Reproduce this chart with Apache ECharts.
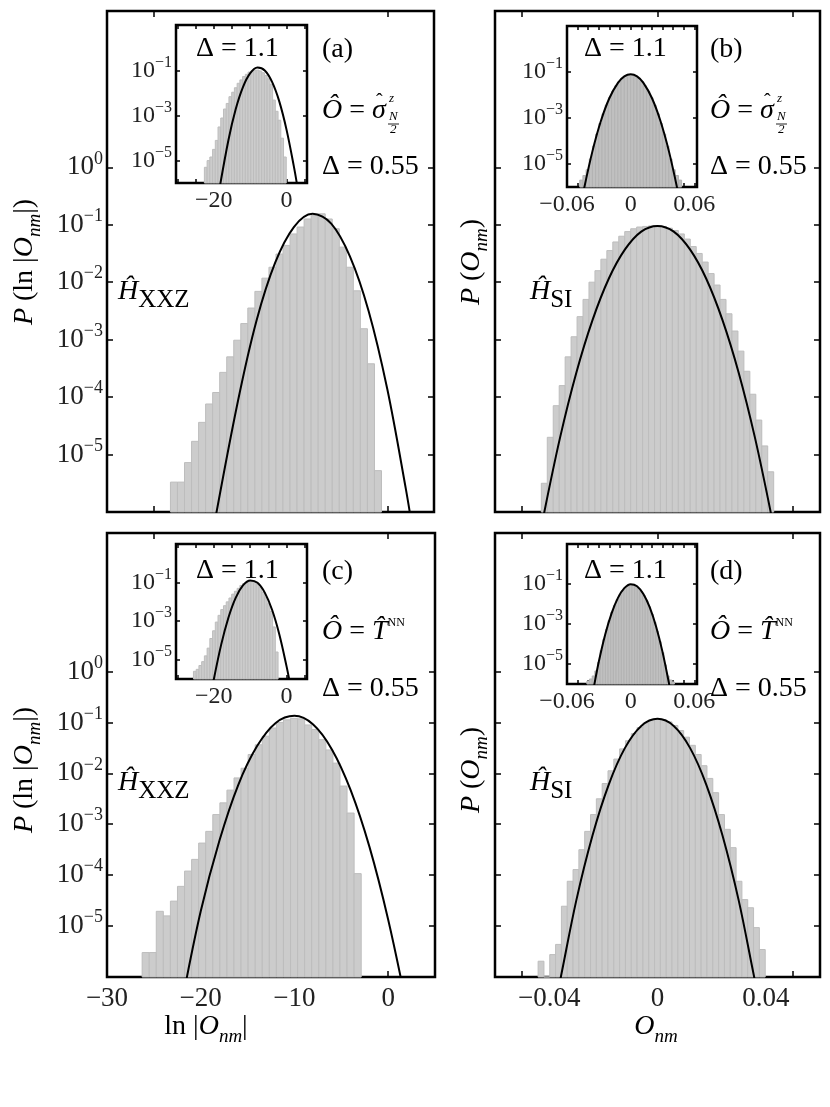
<!DOCTYPE html>
<html>
<head>
<meta charset="utf-8">
<title>ECharts</title>
<script src="https://cdn.jsdelivr.net/npm/echarts@6/dist/echarts.min.js"></script>
</head>
<body style="margin:0;background:#fff">
<div id="main" style="width:830px;height:1107px;"></div>
<script>
// all P values are stored as log10 P
// (a) main, XXZ, sigma_z
var aBinStart = -23.21, aBinW = 0.753;
var aLogP = [-5.48,-5.48,-5.14,-4.77,-4.44,-4.12,-3.92,-3.57,-3.30,-3.01,-2.72,-2.45,-2.16,-1.93,-1.74,-1.51,-1.36,-1.16,-1.04,-0.90,-0.84,-0.81,-0.90,-1.07,-1.39,-1.74,-2.15,-2.81,-3.42,-5.28];
var aCurveX = [-18.5,-16,-14,-12,-10,-8,-6,-4,-2,0,2,2.6];
var aCurveLogP = [-6.2,-4.08,-2.67,-1.66,-1.04,-0.81,-0.98,-1.55,-2.50,-3.86,-5.61,-6.2];
// (a) inset
var iaBinStart = -22.6, iaBinW = 0.75;
var iaLogP = [-5.3,-5.0,-4.84,-4.5,-4.1,-3.5,-3.1,-2.7,-2.45,-2.15,-1.95,-1.75,-1.55,-1.4,-1.25,-1.15,-1.05,-1.0,-0.97,-0.96,-1.0,-1.08,-1.2,-1.35,-1.6,-2.3,-2.8,-3.2,-4.0,-4.84];
var iaCurveX = [-18.5,-16,-14,-12,-10,-8,-6,-4,-2,0,2,3];
var iaCurveLogP = [-6.3,-4.09,-2.71,-1.72,-1.10,-0.85,-0.98,-1.49,-2.37,-3.64,-5.27,-6.2];
// (b) main, SI, sigma_z
var bBinStart = -0.0429, bBinW = 0.0022;
var bLogP = [-5.5,-4.7,-4.15,-3.8,-3.3,-2.95,-2.6,-2.3,-2.0,-1.8,-1.6,-1.45,-1.3,-1.2,-1.12,-1.07,-1.04,-1.03,-1.02,-1.02,-1.03,-1.06,-1.1,-1.16,-1.25,-1.38,-1.5,-1.65,-1.85,-2.05,-2.3,-2.55,-2.85,-3.2,-3.55,-3.95,-4.4,-4.85,-5.3];
var bCurveX = [-0.042,-0.036,-0.030,-0.024,-0.018,-0.012,-0.006,0,0.006,0.012,0.018,0.024,0.030,0.036,0.042];
var bCurveLogP = [-6.05,-4.71,-3.58,-2.66,-1.94,-1.43,-1.12,-1.02,-1.12,-1.43,-1.94,-2.66,-3.58,-4.71,-6.05];
// (b) inset
var ibBinStart = -0.048, ibBinW = 0.003;
var ibLogP = [-5.7,-5.5,-5.25,-4.78,-4.22,-3.7,-3.24,-2.82,-2.44,-2.12,-1.84,-1.6,-1.41,-1.28,-1.18,-1.14,-1.14,-1.18,-1.28,-1.41,-1.6,-1.84,-2.12,-2.44,-2.82,-3.24,-3.7,-4.22,-4.78,-5.25,-5.5,-5.7];
var ibCurveX = [-0.044,-0.036,-0.028,-0.020,-0.012,-0.006,0,0.006,0.012,0.020,0.028,0.036,0.044];
var ibCurveLogP = [-6.09,-4.44,-3.12,-2.13,-1.47,-1.19,-1.1,-1.19,-1.47,-2.13,-3.12,-4.44,-6.09];
// (c) main, XXZ, T_NN
var cBinStart = -26.25, cBinW = 0.754;
var cLogP = [-5.52,-5.52,-4.71,-4.80,-4.51,-4.22,-3.92,-3.69,-3.37,-3.14,-2.81,-2.58,-2.33,-2.09,-1.90,-1.63,-1.44,-1.27,-1.11,-1.00,-0.95,-0.92,-0.93,-1.05,-1.14,-1.34,-1.54,-1.80,-2.25,-2.78,-3.97];
var cCurveX = [-22,-20,-18,-16,-14,-12,-10,-8,-6,-4,-2,0,2];
var cCurveLogP = [-6.5,-4.71,-3.32,-2.23,-1.47,-1.01,-0.87,-1.04,-1.53,-2.33,-3.44,-4.87,-6.6];
// (c) inset
var icBinStart = -25.6, icBinW = 0.75;
var icLogP = [-5.6,-5.5,-5.3,-5.1,-4.8,-4.4,-3.9,-3.5,-3.05,-2.7,-2.4,-2.2,-2.0,-1.8,-1.6,-1.45,-1.3,-1.15,-1.05,-0.97,-0.95,-0.96,-1.0,-1.1,-1.25,-1.5,-1.75,-2.1,-2.5,-3.3,-4.6];
var icCurveX = [-20.2,-18,-16,-14,-12,-10,-8,-6,-4,-2,0,1];
var icCurveLogP = [-6.2,-4.23,-2.82,-1.79,-1.15,-0.89,-1.01,-1.52,-2.41,-3.69,-5.36,-6.3];
// (d) main, SI, T_NN
var dBinStart = -0.04408, dBinW = 0.00215;
var dLogP = [-5.69,-6,-5.56,-5.36,-4.61,-4.12,-3.89,-3.50,-3.14,-2.81,-2.5,-2.2,-1.95,-1.72,-1.52,-1.36,-1.22,-1.1,-1.01,-0.96,-0.94,-0.95,-0.99,-1.06,-1.16,-1.29,-1.45,-1.63,-1.85,-2.1,-2.38,-2.81,-3.10,-3.46,-4.12,-4.48,-4.64,-5.03,-5.46];
var dCurveX = [-0.037,-0.036,-0.030,-0.024,-0.018,-0.012,-0.006,0,0.006,0.012,0.018,0.024,0.030,0.036,0.037];
var dCurveLogP = [-6.3,-6.08,-4.50,-3.22,-2.22,-1.50,-1.07,-0.93,-1.07,-1.50,-2.22,-3.22,-4.50,-6.08,-6.3];
// (d) inset
var idBinStart = -0.04125, idBinW = 0.0025;
var idLogP = [-5.85,-5.75,-5.6,-5.35,-4.93,-4.33,-3.78,-3.29,-2.84,-2.44,-2.1,-1.8,-1.56,-1.36,-1.21,-1.12,-1.07,-1.08,-1.13,-1.24,-1.4,-1.6,-1.86,-2.16,-2.52,-2.92,-3.38,-3.89,-4.44,-5.05,-5.6,-5.8,-5.9];
var idCurveX = [-0.036,-0.035,-0.030,-0.024,-0.018,-0.012,-0.006,0,0.006,0.012,0.018,0.024,0.030,0.036,0.038];
var idCurveLogP = [-6.5,-6.23,-4.88,-3.53,-2.48,-1.71,-1.23,-1.03,-1.13,-1.52,-2.19,-3.15,-4.40,-5.94,-6.5];

var mainYTicks = [-5,-4,-3,-2,-1,0];
var insetYTicks = [-5,-3,-1];

var FONT = 'Liberation Serif';
var myChart = echarts.init(document.getElementById('main'));

function logLabel(v) {
    return '{b|10}{s|' + (v < 0 ? '\u2212' + (-v) : v) + '}';
}
function numLabel(v) {
    return v < 0 ? '\u2212' + (-v) : String(v);
}
function labelRich(size) {
    return {
        b: {fontFamily: FONT, fontSize: size, color: '#222', lineHeight: size + 8},
        s: {fontFamily: FONT, fontSize: Math.round(size * 0.68), color: '#222', verticalAlign: 'top', lineHeight: size + 8}
    };
}

var grids = [
    {left: 107, top: 11, width: 327, height: 501},
    {left: 495, top: 11, width: 325, height: 501},
    {left: 107, top: 533, width: 328, height: 444},
    {left: 495, top: 533, width: 325, height: 444},
    {left: 176, top: 25, width: 131, height: 158},
    {left: 567, top: 26, width: 130, height: 161},
    {left: 176, top: 544, width: 131, height: 135},
    {left: 567, top: 544, width: 130, height: 140}
];
grids.forEach(function (g) {
    g.show = true; g.borderColor = '#000'; g.borderWidth = 2.5; g.backgroundColor = '#fff';
});

var xAxes = [], yAxes = [];
var noLine = {show: false, onZero: false};
function tick(vals, len) {
    return {show: true, inside: true, length: len, customValues: vals, lineStyle: {color: '#000', width: 1.5}};
}
function addAxes(gi, cfg) {
    var fs = cfg.fs;
    xAxes.push({gridIndex: gi, type: 'value', position: 'bottom', min: cfg.xr[0], max: cfg.xr[1],
        axisLine: noLine, splitLine: {show: false}, axisTick: tick(cfg.xt, cfg.tl),
        axisLabel: {show: !!cfg.xl, customValues: cfg.xl || [], margin: cfg.xm || 8, fontFamily: FONT, fontSize: fs, color: '#222', formatter: numLabel}});
    xAxes.push({gridIndex: gi, type: 'value', position: 'top', min: cfg.xr[0], max: cfg.xr[1],
        axisLine: noLine, splitLine: {show: false}, axisTick: tick(cfg.xt, cfg.tl), axisLabel: {show: false}});
    yAxes.push({gridIndex: gi, type: 'value', position: 'left', min: -6, max: cfg.ymax,
        axisLine: noLine, splitLine: {show: false}, axisTick: tick(cfg.yt, cfg.tl),
        axisLabel: {show: !!cfg.yl, customValues: cfg.yl || [], margin: cfg.ym || 4, formatter: logLabel, rich: labelRich(fs)}});
    yAxes.push({gridIndex: gi, type: 'value', position: 'right', min: -6, max: cfg.ymax,
        axisLine: noLine, splitLine: {show: false}, axisTick: tick(cfg.yt, cfg.tl), axisLabel: {show: false}});
}
addAxes(0, {xr: [-30, 5], xt: [-25, 0], ymax: 2.72, yt: mainYTicks, yl: mainYTicks, fs: 27, tl: 6});
addAxes(1, {xr: [-0.06, 0.06], xt: [-0.05, 0, 0.05], ymax: 2.72, yt: mainYTicks, fs: 27, tl: 6});
addAxes(2, {xr: [-30, 5], xt: [-25, 0], xl: [-30, -20, -10, 0], ymax: 2.72, yt: mainYTicks, yl: mainYTicks, fs: 27, tl: 6});
addAxes(3, {xr: [-0.06, 0.06], xt: [-0.05, 0, 0.05], xl: [-0.04, 0, 0.04], ymax: 2.72, yt: mainYTicks, fs: 27, tl: 6});
var insXT = [-30, -25, -20, -15, -10, -5, 0, 5];
var insBT = [-0.05, -0.04, -0.03, -0.02, -0.01, 0, 0.01, 0.02, 0.03, 0.04, 0.05, 0.06];
addAxes(4, {xr: [-30.4, 5.6], xt: insXT, xl: [-20, 0], ymax: 1.05, yt: insetYTicks, yl: insetYTicks, fs: 24, tl: 4, xm: 6});
addAxes(5, {xr: [-0.06, 0.0625], xt: insBT, xl: [-0.06, 0, 0.06], ymax: 1.0, yt: insetYTicks, yl: insetYTicks, fs: 24, tl: 4, xm: 6});
addAxes(6, {xr: [-30.4, 5.6], xt: insXT, xl: [-20, 0], ymax: 1.0, yt: insetYTicks, yl: insetYTicks, fs: 24, tl: 4, xm: 6});
addAxes(7, {xr: [-0.06, 0.0625], xt: insBT, xl: [-0.06, 0, 0.06], ymax: 0.97, yt: insetYTicks, yl: insetYTicks, fs: 24, tl: 4, xm: 6});

function binData(start, w, vals) {
    return vals.map(function (v, i) { return [start + i * w, start + (i + 1) * w, v]; });
}
function barSeries(gi, data, fill, stroke) {
    return {
        type: 'custom', xAxisIndex: 2 * gi, yAxisIndex: 2 * gi, data: data, z: 2,
        renderItem: function (params, api) {
            var p0 = api.coord([api.value(0), api.value(2)]);
            var p1 = api.coord([api.value(1), -6]);
            return {type: 'rect', shape: {x: p0[0], y: p0[1], width: p1[0] - p0[0], height: p1[1] - p0[1]},
                style: {fill: fill, stroke: stroke, lineWidth: 1}};
        }
    };
}
function curveSeries(gi, xs, ys) {
    return {
        type: 'line', xAxisIndex: 2 * gi, yAxisIndex: 2 * gi, smooth: 0.35, showSymbol: false, clip: true, z: 3,
        data: xs.map(function (x, i) { return [x, ys[i]]; }),
        lineStyle: {color: '#000', width: 2}
    };
}
var LF = '#cccccc', LS = '#bdbdbd', DF = '#c0c0c0', DS = '#b3b3b3';
var series = [
    barSeries(0, binData(aBinStart, aBinW, aLogP), LF, LS), curveSeries(0, aCurveX, aCurveLogP),
    barSeries(1, binData(bBinStart, bBinW, bLogP), LF, LS), curveSeries(1, bCurveX, bCurveLogP),
    barSeries(2, binData(cBinStart, cBinW, cLogP), LF, LS), curveSeries(2, cCurveX, cCurveLogP),
    barSeries(3, binData(dBinStart, dBinW, dLogP), LF, LS), curveSeries(3, dCurveX, dCurveLogP),
    barSeries(4, binData(iaBinStart, iaBinW, iaLogP), LF, LS), curveSeries(4, iaCurveX, iaCurveLogP),
    barSeries(5, binData(ibBinStart, ibBinW, ibLogP), DF, DS), curveSeries(5, ibCurveX, ibCurveLogP),
    barSeries(6, binData(icBinStart, icBinW, icLogP), LF, LS), curveSeries(6, icCurveX, icCurveLogP),
    barSeries(7, binData(idBinStart, idBinW, idLogP), DF, DS), curveSeries(7, idCurveX, idCurveLogP)
];

var rich = {
    r: {fontFamily: FONT, fontSize: 28, color: '#222'},
    i: {fontFamily: FONT, fontSize: 28, fontStyle: 'italic', color: '#222'},
    sub: {fontFamily: FONT, fontSize: 25, color: '#222', verticalAlign: 'bottom', lineHeight: 42},
    subi: {fontFamily: FONT, fontSize: 19, fontStyle: 'italic', color: '#222', verticalAlign: 'bottom', lineHeight: 38},
    sc: {fontFamily: FONT, fontSize: 12, color: '#222', verticalAlign: 'top', lineHeight: 30},
    tiny: {fontFamily: FONT, fontSize: 13, fontStyle: 'italic', color: '#222'},
    hat: {fontFamily: FONT, fontSize: 20, color: '#222'}
};
function txt(x, y, s, align, rot) {
    return {type: 'text', x: x, y: y, rotation: rot || 0, z: 10,
        style: {text: s, rich: rich, align: align || 'left', verticalAlign: 'middle', font: '28px ' + FONT}};
}
var graphic = [];
[[0, 0, true], [388, 0, true], [0, 522, false], [388, 522, false]].forEach(function (p) {
    var dx = p[0], dy = p[1];
    graphic.push(txt(322 + dx, 50 + dy, '{r|(' + 'abcd'[(dx ? 1 : 0) + (dy ? 2 : 0)] + ')}'));
    graphic.push(txt(196 + dx, 49 + dy, '{r|\u0394 = 1.1}'));
    graphic.push(txt(322 + dx, 167 + dy, '{r|\u0394 = 0.55}'));
    if (p[2]) {
        graphic.push(txt(322 + dx, 111 + dy, '{i|\u00d4}{r| = }{i|\u03c3}'));
        graphic.push(txt(376 + dx, 103 + dy, '{hat|\u02c6}'));
        graphic.push(txt(389 + dx, 99 + dy, '{tiny|z}'));
        graphic.push(txt(389 + dx, 117 + dy, '{tiny|N}'));
        graphic.push({type: 'line', z: 10, shape: {x1: 388 + dx, y1: 124 + dy, x2: 399 + dx, y2: 124 + dy}, style: {stroke: '#222', lineWidth: 1}});
        graphic.push(txt(390 + dx, 130 + dy, '{tiny|2}'));
    } else {
        graphic.push(txt(322 + dx, 110 + dy, '{i|\u00d4}{r| = }{i|T\u0302}{sc|NN}'));
    }
});
graphic.push(txt(118, 292, '{i|\u0124}{sub|XXZ}'));
graphic.push(txt(118, 783, '{i|\u0124}{sub|XXZ}'));
graphic.push(txt(530, 292, '{i|\u0124}{sub|SI}'));
graphic.push(txt(530, 783, '{i|\u0124}{sub|SI}'));
graphic.push(txt(25, 262, '{i|P}{r| (ln |}{i|O}{subi|nm}{r||)}', 'center', Math.PI / 2));
graphic.push(txt(25, 770, '{i|P}{r| (ln |}{i|O}{subi|nm}{r||)}', 'center', Math.PI / 2));
graphic.push(txt(472, 262, '{i|P}{r| (}{i|O}{subi|nm}{r|)}', 'center', Math.PI / 2));
graphic.push(txt(472, 770, '{i|P}{r| (}{i|O}{subi|nm}{r|)}', 'center', Math.PI / 2));
graphic.push(txt(206, 1027, '{r|ln |}{i|O}{subi|nm}{r||}', 'center'));
graphic.push(txt(656, 1027, '{i|O}{subi|nm}', 'center'));

myChart.setOption({
    animation: false,
    grid: grids,
    xAxis: xAxes,
    yAxis: yAxes,
    series: series,
    graphic: graphic
});
</script>
</body>
</html>
